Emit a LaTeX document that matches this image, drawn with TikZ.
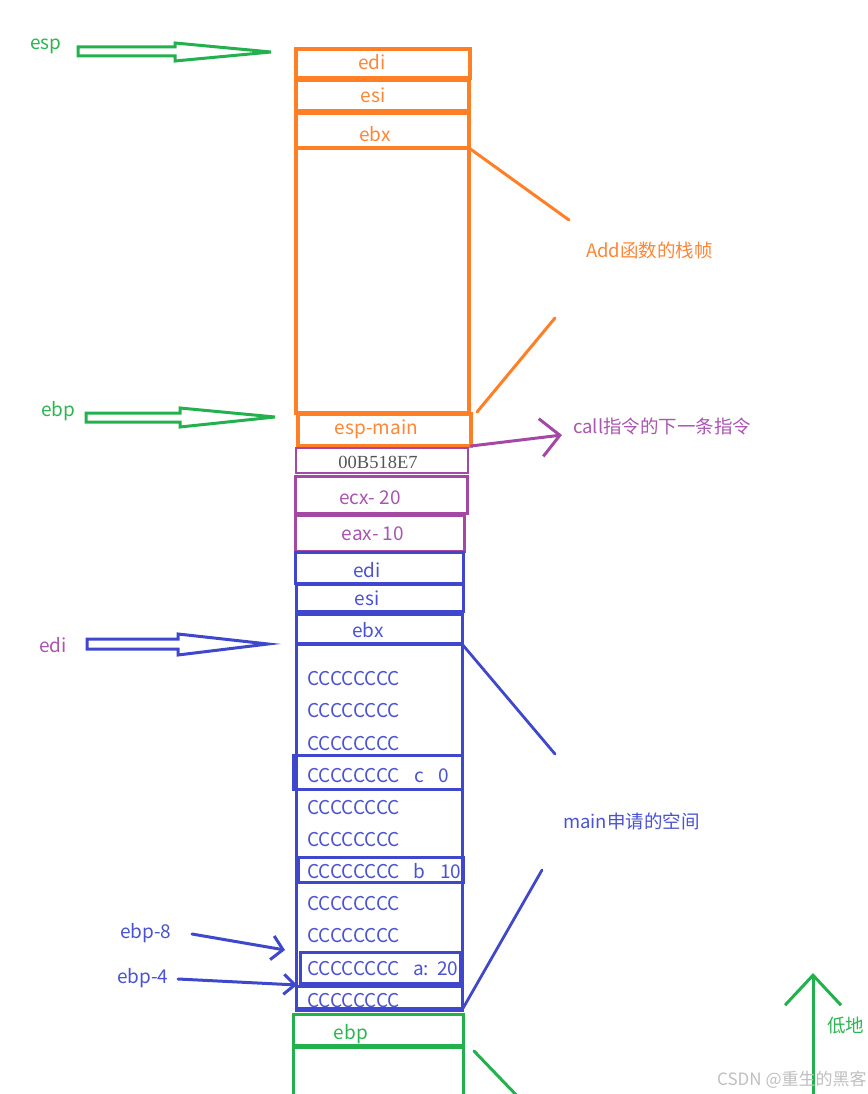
\documentclass[tikz,border=0pt]{standalone}
\usepackage{fontspec}
\setmainfont{Noto Sans CJK SC}
\newfontfamily\numserif{Liberation Serif}
\usetikzlibrary{arrows.meta,fit}
\definecolor{corange}{HTML}{FF7F27}
\definecolor{cgreen}{HTML}{22B14C}
\definecolor{cblue}{HTML}{3F48CC}
\definecolor{cpurple}{HTML}{A349A4}
\definecolor{tblue}{HTML}{4A52D2}
\definecolor{tpurple}{HTML}{AA55B0}
\definecolor{torange}{HTML}{FF8636}
\definecolor{tgreen}{HTML}{2DB552}
\definecolor{cgray}{HTML}{555555}
\begin{document}
\begin{tikzpicture}[x=1pt,y=-1pt,
  cellbox/.style={draw, line width=3pt, inner sep=0pt, outer sep=0pt},
  lbl/.style={font=\fontsize{19}{22}\selectfont, inner sep=0pt, anchor=base},
  lblw/.style={lbl, anchor=base west},
  cjk/.style={font=\fontsize{18.5}{22}\selectfont, inner sep=0pt, anchor=base west},
  blockarrow/.style={draw, line width=3pt, line join=miter},
  lead/.style={line width=3pt, line cap=round},
  barb/.style={line width=3pt, line cap=round, line join=round}
]
\useasboundingbox (0,0) rectangle (867,1094);

% ---------- orange frame (Add) ----------
\node[cellbox, draw=corange, line width=3.3pt, fit={(296,49) (470,78)}] (oedi) {};
\node[cellbox, draw=corange, line width=3.3pt, fit={(296,80) (469,111)}] (oesi) {};
\node[cellbox, draw=corange, line width=3.3pt, fit={(296,113) (469,148)}] (oebx) {};
\node[cellbox, draw=corange, line width=3.3pt, fit={(296,148) (469,413)}] (obig) {};
\node[cellbox, draw=corange, line width=3.3pt, fit={(298,414) (471,446)}] (oespm) {};
\node[lbl, text=torange] (toedi) at (372,70) {edi};
\node[lbl, text=torange] (toesi) at (373,103) {esi};
\node[lbl, text=torange] (toebx) at (375,142) {ebx};
\node[lbl, text=torange] (toespm) at (376.5,434) {esp-main};

% ---------- purple cells ----------
\node[cellbox, draw=cpurple, line width=2.5pt, fit={(296,448) (468,473)}] (pret) {};
\node[cellbox, draw=cpurple, fit={(295,476) (467,513)}] (pecx) {};
\node[cellbox, draw=cpurple, fit={(295,515) (464,551)}] (peax) {};
\node[lbl, text=cgray, font=\numserif\fontsize{18.5}{22}\selectfont] (tpret) at (378,468) {00B518E7};
\node[lbl, text=tpurple] (tpecx) at (370,504) {ecx- 20};
\node[lbl, text=tpurple] (tpeax) at (373,540) {eax- 10};

% ---------- blue frame (main) ----------
\node[cellbox, draw=cblue, fit={(295,552) (463,583)}] (bedi) {};
\node[cellbox, draw=cblue, fit={(296,584) (463,611)}] (besi) {};
\node[cellbox, draw=cblue, fit={(296,614) (462,643)}] (bebx) {};
\node[cellbox, draw=cblue, fit={(296,644) (462,1010)}] (bbig) {};
\node[cellbox, draw=cblue, fit={(293,755) (462,789)}] (rc) {};
\node[cellbox, draw=cblue, fit={(298,857) (463,882)}] (rb) {};
\node[cellbox, draw=cblue, fit={(300,952) (460,983)}] (ra) {};
\node[cellbox, draw=cblue, fit={(296,986) (462,1008)}] (rl) {};
\node[lbl, text=tblue] (tbedi) at (367,577) {edi};
\node[lbl, text=tblue] (tbesi) at (367,605) {esi};
\node[lbl, text=tblue] (tbebx) at (368,637) {ebx};
\foreach \yy [count=\i] in {685,717,750,782,814,846,878,910,942,975,1007}
  \node[lblw, text=tblue] (cc\i) at (307,\yy) {CCCCCCCC};
\node[lblw, text=tblue] (tc) at (414,782) {c};
\node[lblw, text=tblue] (tc0) at (438,782) {0};
\node[lblw, text=tblue] (tb) at (413,878) {b};
\node[lblw, text=tblue] (tb10) at (440,878) {10};
\node[lblw, text=tblue] (ta) at (413,975) {a:};
\node[lblw, text=tblue] (ta20) at (437,975) {20};

% ---------- green (caller ebp) ----------
\node[cellbox, draw=cgreen, fit={(293,1014) (463,1046)}] (gebp) {};
\node[cellbox, draw=cgreen, fit={(293,1047) (463,1112)}] (gnext) {};
\draw[cgreen, line width=4.5pt] (gebp.south west) -- (gebp.south east);
\node[lbl, text=tgreen] (tgebp) at (351,1039) {ebp};

% ---------- braces / leaders ----------
\coordinate (o1) at (569,220);
\coordinate (o2) at (477,412);
\coordinate (o3) at (555,318);
\draw[lead, corange] (obig.north east) -- (o1);
\draw[lead, corange] (o2) -- (o3);
\node[cjk, text=torange] (tadd) at (586,257) {Add函数的栈帧};

\coordinate (b1) at (555,754);
\coordinate (b2) at (542,870);
\draw[lead, cblue, line width=2.8pt] (bbig.north east) -- (b1);
\draw[lead, cblue, line width=2.8pt] (bbig.south east) -- (b2);
\node[cjk, text=tblue] (tmain) at (563,828) {main申请的空间};

\coordinate (g1) at (474,1051);
\coordinate (g2) at (522,1101);
\draw[lead, cgreen] (g1) -- (g2);

% call arrow
\coordinate (pa) at (562,435);
\draw[barb, cpurple, -{Straight Barb[length=19pt,width=38pt]}] (oespm.south east) -- (pa);
\node[cjk, text=tpurple] (tcall) at (573,433) {call指令的下一条指令};

% ---------- left block arrows ----------
\node[lblw, text=tgreen] (tesp) at (30,50) {esp};
\draw[blockarrow, cgreen] (78,47) -- (175,47) -- (175,43) -- (271,52) -- (175,61) -- (175,56) -- (78,56) -- cycle;
\coordinate (espto) at (271,52);

\node[lblw, text=tgreen] (tebp) at (41,416) {ebp};
\draw[blockarrow, cgreen] (86,413) -- (180,413) -- (180,408) -- (275,417) -- (180,427) -- (180,422) -- (86,422) -- cycle;
\coordinate (ebpto) at (275,417);

\node[lblw, text=tpurple] (tedi) at (39,652) {edi};
\draw[blockarrow, cblue] (87,639) -- (178,639) -- (178,634) -- (268,644) -- (178,655) -- (178,649) -- (87,649) -- cycle;
\coordinate (edito) at (268,644);

% ebp-8 / ebp-4
\node[lblw, text=tblue] (tebp8) at (120,938) {ebp-8};
\node[lblw, text=tblue] (tebp4) at (117,983) {ebp-4};
\coordinate (e8s) at (192,934);
\coordinate (e8t) at (285,950);
\coordinate (e4s) at (178,979);
\coordinate (e4t) at (297,985);
\draw[barb, cblue, -{Straight Barb[length=11pt,width=24pt]}] (e8s) -- (e8t);
\draw[barb, cblue, -{Straight Barb[length=11pt,width=20pt]}] (e4s) -- (e4t);

% ---------- low address arrow ----------
\coordinate (ubot) at (813,1100);
\coordinate (utop) at (813,973);
\draw[barb, cgreen, -{Straight Barb[length=30pt,width=56pt]}] (ubot) -- (utop);
\node[cjk, text=tgreen] (tlow) at (827,1032) {低地};

% watermark
\node[font=\fontsize{17}{20}\selectfont, text=gray!50, inner sep=0pt, anchor=base west] (wm) at (717,1085) {CSDN @重生的黑客};
\end{tikzpicture}
\end{document}
